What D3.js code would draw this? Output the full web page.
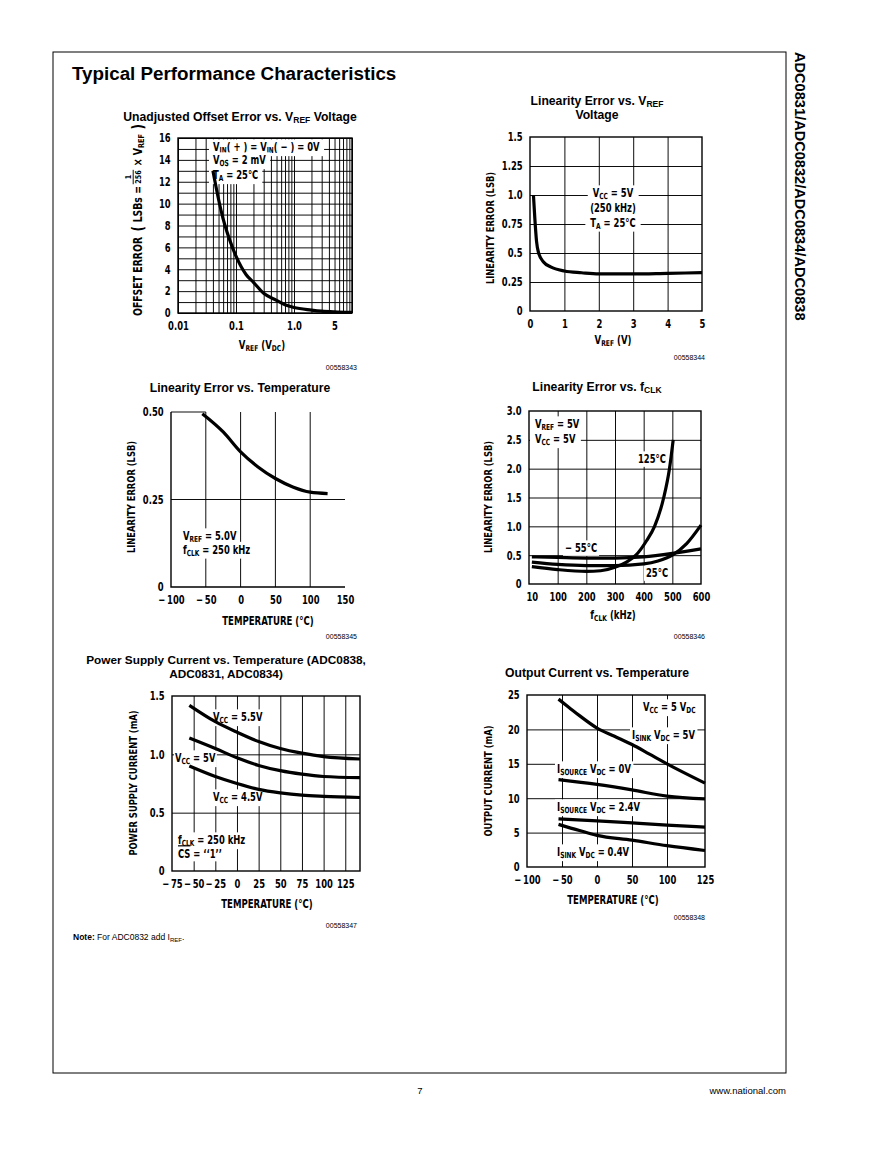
<!DOCTYPE html>
<html>
<head>
<meta charset="utf-8">
<script src="https://d3js.org/d3.v7.min.js"></script>
<style>
  body { margin: 0; background: #fff; }
  svg text { font-family: "Liberation Sans Narrow", "DejaVu Sans Condensed", sans-serif; font-weight: bold; fill: #000; }
  svg text.hd { font-family: "Liberation Sans", Arial, sans-serif; }
  svg text.plain { font-family: "Liberation Sans", Arial, sans-serif; font-weight: normal; }
  .grid line { stroke: #000; stroke-width: 0.95; }
  .curve { fill: none; stroke: #000; stroke-width: 3.2; }
</style>
</head>
<body>
<svg id="page" width="893" height="1155"></svg>
<script>
'use strict';

// ---- data ----
// offset error vs VREF
var offVref = [0.04, 0.05, 0.06, 0.07, 0.08, 0.1, 0.15, 0.2, 0.3, 0.5, 0.7, 1, 2, 3, 5, 10];
var offErr  = [13.0, 10.4, 8.6, 7.4, 6.5, 5.2, 3.5, 2.8, 1.8, 1.15, 0.75, 0.5, 0.27, 0.17, 0.1, 0.05];

// linearity error vs VREF
var linVref = [0.1, 0.14, 0.19, 0.25, 0.4, 0.6, 1, 1.5, 2, 3, 4, 5];
var linErrV = [1.0, 0.8, 0.6, 0.5, 0.42, 0.38, 0.345, 0.33, 0.32, 0.32, 0.325, 0.33];

// linearity error vs temperature
var linTemp = [-55, -25, 0, 25, 50, 75, 100, 125];
var linErrT = [0.495, 0.443, 0.386, 0.343, 0.31, 0.286, 0.271, 0.267];

// linearity error vs fCLK
var fclkM55 = [10, 100, 200, 300, 400, 500, 600];
var errM55  = [0.47, 0.46, 0.45, 0.45, 0.47, 0.53, 0.61];
var fclk25  = [10, 100, 200, 300, 400, 450, 500, 550, 600];
var err25   = [0.38, 0.34, 0.32, 0.32, 0.35, 0.40, 0.50, 0.70, 1.02];
var fclk125 = [10, 100, 200, 250, 300, 340, 373, 410, 438, 470, 490, 503];
var err125  = [0.30, 0.25, 0.22, 0.23, 0.29, 0.38, 0.5, 0.75, 1.0, 1.5, 2.0, 2.5];

// supply current vs temperature
var psTemp  = [-55, -25, 0, 25, 50, 75, 100, 142];
var ps55    = [1.42, 1.28, 1.19, 1.11, 1.05, 1.01, 0.98, 0.96];
var ps50    = [1.14, 1.05, 0.97, 0.905, 0.86, 0.83, 0.81, 0.80];
var ps45    = [0.90, 0.81, 0.75, 0.70, 0.67, 0.65, 0.64, 0.63];

// output current vs temperature
var ocTempA   = [-55, -40, -25, 0, 25, 50, 75, 100, 125];
var sink5     = [24.4, 23.2, 22.0, 20.2, 19.0, 17.8, 16.4, 15.0, 12.2];
var ocTempB   = [-55, 0, 50, 100, 125];
var source0   = [12.7, 12.0, 11.2, 10.3, 9.9];
var source24  = [7.0, 6.7, 6.4, 6.1, 5.8];
var ocTempC   = [-55, -25, 0, 50, 100, 125];
var sink04    = [6.2, 5.3, 4.6, 3.9, 3.1, 2.4];

// tick labels
var offXTicks = [0.01, 0.1, 1, 5], offXLabels = ["0.01", "0.1", "1.0", "5"];
var offYTicks = [0, 2, 4, 6, 8, 10, 12, 14, 16];
var lvXTicks = [0, 1, 2, 3, 4, 5];
var lvYTicks = [0, 0.25, 0.5, 0.75, 1.0, 1.25, 1.5], lvYLabels = ["0", "0.25", "0.5", "0.75", "1.0", "1.25", "1.5"];
var ltXTicks = [-100, -50, 0, 50, 100, 150];
var ltYTicks = [0, 0.25, 0.5], ltYLabels = ["0", "0.25", "0.50"];
var fkXTicks = [10, 100, 200, 300, 400, 500, 600];
var fkYTicks = [0, 0.5, 1.0, 1.5, 2.0, 2.5, 3.0], fkYLabels = ["0", "0.5", "1.0", "1.5", "2.0", "2.5", "3.0"];
var psXTicks = [-75, -50, -25, 0, 25, 50, 75, 100, 125];
var psYTicks = [0, 0.5, 1.0, 1.5], psYLabels = ["0", "0.5", "1.0", "1.5"];
var ocXTicks = [-100, -50, 0, 50, 100, 125];
var ocYTicks = [0, 5, 10, 15, 20, 25];

var page = d3.select("#page");
var SX = 0.78;   // squeeze for the condensed lettering
var FS = 12;     // size of the condensed lettering

function neg(v) { return v < 0 ? "\u2212\u2009" + Math.abs(v) : String(v); }

// text with _{sub} and ~{overline} markup, squeezed sideways by sx
function rich(g, x, y, str, size, anchor, sx) {
  var w = g.append("g").attr("transform", "translate(" + x + "," + y + ") scale(" + (sx || 1) + ",1)");
  var t = w.append("text").attr("x", 0).attr("y", 0)
    .attr("font-size", size).attr("text-anchor", anchor || "start");
  var re = /([_~])\{([^}]*)\}/g, last = 0, m, off = 0;
  function add(s, kind) {
    if (!s) return;
    var ts = t.append("tspan").text(s);
    if (kind === "_") {
      var d = size * 0.2;
      ts.attr("font-size", size * 0.7).attr("dy", d - off);
      off = d;
    } else {
      if (off) { ts.attr("dy", -off); off = 0; }
      if (kind === "~") ts.style("text-decoration", "overline");
    }
  }
  while ((m = re.exec(str))) { add(str.slice(last, m.index)); add(m[2], m[1]); last = re.lastIndex; }
  add(str.slice(last));
  return t;
}

// label with white box behind it
function note(g, x, y, str, pad, anchor) {
  var t = rich(g, x, y, str, FS, anchor || "start", SX);
  var b = t.node().getBBox(), p = (pad == null ? 2 : pad) / SX;
  d3.select(t.node().parentNode).insert("rect", function() { return t.node(); })
    .attr("x", b.x - p).attr("y", b.y - 0.5).attr("width", b.width + 2 * p).attr("height", b.height + 1)
    .attr("fill", "#fff");
  return t;
}

function gridX(g, x, y, vals) {
  var r = y.range();
  g.append("g").attr("class", "grid").attr("transform", "translate(0," + r[0] + ")")
    .call(d3.axisBottom(x).tickValues(vals).tickSize(-(r[0] - r[r.length - 1])).tickFormat(""))
    .call(function(s) { s.select(".domain").remove(); });
}
function gridY(g, x, y, vals) {
  var r = x.range();
  g.append("g").attr("class", "grid").attr("transform", "translate(" + r[0] + ",0)")
    .call(d3.axisLeft(y).tickValues(vals).tickSize(-(r[r.length - 1] - r[0])).tickFormat(""))
    .call(function(s) { s.select(".domain").remove(); });
}
function labelsX(g, x, y, vals, fmt) {
  g.append("g").attr("transform", "translate(0," + y.range()[0] + ")")
    .call(d3.axisBottom(x).tickValues(vals).tickSize(0).tickPadding(8.5).tickFormat(fmt))
    .call(function(s) {
      s.select(".domain").remove();
      s.attr("font-family", null).attr("font-size", FS);
      s.selectAll("text").attr("transform", "scale(" + SX + ",1)");
    });
}
function labelsY(g, x, y, vals, fmt) {
  g.append("g").attr("transform", "translate(" + x.range()[0] + ",0)")
    .call(d3.axisLeft(y).tickValues(vals).tickSize(0).tickPadding(9.5).tickFormat(fmt))
    .call(function(s) {
      s.select(".domain").remove();
      s.attr("font-family", null).attr("font-size", FS);
      s.selectAll("text").attr("transform", "scale(" + SX + ",1)");
    });
}
function frame(g, x, y) {
  var xr = x.range(), yr = y.range();
  g.append("rect").attr("x", xr[0]).attr("y", yr[yr.length - 1])
    .attr("width", xr[xr.length - 1] - xr[0]).attr("height", yr[0] - yr[yr.length - 1])
    .attr("fill", "none").attr("stroke", "#000").attr("stroke-width", 1.4);
}
function curve(g, x, y, xs, ys) {
  var line = d3.line().x(function(d) { return x(d[0]); }).y(function(d) { return y(d[1]); })
    .curve(d3.curveMonotoneX);
  g.append("path").attr("class", "curve").attr("d", line(d3.zip(xs, ys)));
}
function titleX(g, cx, y, str) {
  rich(g, cx, y, str, 11.5, "middle", 0.83);
}
function titleY(g, cx, cy, str) {
  var gg = g.append("g").attr("transform", "translate(" + cx + "," + cy + ") rotate(-90)");
  rich(gg, 0, 0, str, 11.2, "middle", 0.83);
}
function figNo(g, x, y, s) {
  g.append("text").attr("class", "plain").attr("x", x).attr("y", y)
    .attr("font-size", 7).attr("text-anchor", "end").text(s);
}
function chartTitle(cx, y, str, size) {
  rich(page, cx, y, str, size || 12.2, "middle", 1).attr("class", "hd");
}

// ---- page furniture ----
page.append("rect").attr("x", 53).attr("y", 52).attr("width", 733).attr("height", 1021)
  .attr("fill", "none").attr("stroke", "#000").attr("stroke-width", 1);
page.append("text").attr("class", "hd").attr("x", 72).attr("y", 80).attr("font-size", 18.8)
  .text("Typical Performance Characteristics");
page.append("text").attr("class", "hd").attr("transform", "translate(795,52) rotate(90)")
  .attr("font-size", 14.6).text("ADC0831/ADC0832/ADC0834/ADC0838");
page.append("text").attr("class", "plain").attr("x", 420).attr("y", 1094).attr("font-size", 9.5)
  .attr("text-anchor", "middle").text("7");
page.append("text").attr("class", "plain").attr("x", 786).attr("y", 1094).attr("font-size", 9.5)
  .attr("text-anchor", "end").text("www.national.com");
var nt = page.append("text").attr("class", "plain").attr("x", 73).attr("y", 940).attr("font-size", 8.5);
nt.append("tspan").attr("font-weight", "bold").text("Note:");
nt.append("tspan").text(" For ADC0832 add I");
nt.append("tspan").attr("font-size", 6).attr("dy", 2).text("REF");
nt.append("tspan").attr("dy", -2).text(".");

// ---- 1: offset error vs VREF ----
(function() {
  var g = page.append("g");
  var x = d3.scaleLog().domain([0.01, 10]).range([178, 352]);
  var y = d3.scaleLinear().domain([0, 16]).range([313, 138]);
  chartTitle(240, 121, "Unadjusted Offset Error vs. V_{REF} Voltage");
  gridX(g, x, y, x.ticks());
  gridY(g, x, y, y.ticks(16));
  frame(g, x, y);
  labelsX(g, x, y, offXTicks, function(d, i) { return offXLabels[i]; });
  labelsY(g, x, y, offYTicks, function(d) { return d; });
  var lb = g.append("g");
  note(lb, 213, 151, "V_{IN}( + ) = V_{IN}( \u2212 ) = 0V", 4);
  note(lb, 213, 164, "V_{OS} = 2 mV", 4);
  note(lb, 213, 179, "T_{A}  =  25\u00b0C", 4);
  curve(g, x, y, offVref, offErr);
  titleX(g, 262, 349, "V_{REF} (V_{DC})");
  figNo(g, 357, 370, "00558343");

  // rotated label with the 1/256 fraction
  var gl = g.append("g").attr("transform", "translate(142,220) rotate(-90)");
  var inner = gl.append("g");
  var cur = 0;
  function seg(str, size, dy) {
    var t = rich(inner, cur, dy || 0, str, size, "start", 1);
    cur += t.node().getComputedTextLength();
  }
  seg("OFFSET ERROR", 11.5); cur += 6;
  seg("(", 15, 1); cur += 4;
  seg("LSBs =", 11.5); cur += 9;
  var fx = cur + 1;
  inner.append("text").attr("x", fx).attr("y", -11).attr("font-size", 8).attr("text-anchor", "middle").text("1");
  inner.append("line").attr("x1", fx - 8).attr("x2", fx + 8).attr("y1", -8.8).attr("y2", -8.8)
    .attr("stroke", "#000").attr("stroke-width", 1);
  inner.append("text").attr("x", fx).attr("y", -1.2).attr("font-size", 8).attr("text-anchor", "middle").text("256");
  cur = fx + 12;
  seg("\u00d7 V_{REF}", 11.5); cur += 5;
  seg(")", 15, 1);
  inner.attr("transform", "translate(" + (-cur * 0.9 / 2) + ",0) scale(0.9,1)");
})();

// ---- 2: linearity error vs VREF ----
(function() {
  var g = page.append("g");
  var x = d3.scaleLinear().domain([0, 5]).range([530, 702]);
  var y = d3.scaleLinear().domain([0, 1.5]).range([311, 137]);
  chartTitle(597, 105, "Linearity Error vs. V_{REF}");
  chartTitle(597, 119, "Voltage");
  gridX(g, x, y, [1, 2, 3, 4]);
  gridY(g, x, y, [0.25, 0.5, 0.75, 1.0, 1.25]);
  frame(g, x, y);
  labelsX(g, x, y, lvXTicks, function(d) { return d; });
  labelsY(g, x, y, lvYTicks, function(d, i) { return lvYLabels[i]; });
  var lb = g.append("g");
  note(lb, 613, 197, "V_{CC} = 5V", 5, "middle");
  note(lb, 613, 212, "(250 kHz)", 5, "middle");
  note(lb, 613, 226.5, "T_{A} = 25\u00b0C", 5, "middle");
  curve(g, x, y, linVref, linErrV);
  titleX(g, 613, 344, "V_{REF} (V)");
  titleY(g, 494, 228, "LINEARITY ERROR (LSB)");
  figNo(g, 705, 360, "00558344");
})();

// ---- 3: linearity error vs temperature ----
(function() {
  var g = page.append("g");
  var x = d3.scaleLinear().domain([-100, 150]).range([171, 345]);
  var y = d3.scaleLinear().domain([0, 0.5]).range([587, 412]);
  chartTitle(240, 392, "Linearity Error vs. Temperature");
  var gr = g.append("g").attr("class", "grid");
  gr.selectAll(".v").data([-50, 0, 50, 100]).join("line")
    .attr("x1", x).attr("x2", x).attr("y1", y(0)).attr("y2", y(0.5));
  gr.append("line").attr("x1", x(-100)).attr("x2", x(150)).attr("y1", y(0.25)).attr("y2", y(0.25));
  gr.append("line").attr("x1", x(-100)).attr("x2", x(-50)).attr("y1", y(0.5)).attr("y2", y(0.5));
  g.append("path").attr("fill", "none").attr("stroke", "#000").attr("stroke-width", 1.4)
    .attr("d", "M" + x(-100) + "," + y(0.5) + "V" + y(0) + "H" + x(150));
  labelsX(g, x, y, ltXTicks, neg);
  labelsY(g, x, y, ltYTicks, function(d, i) { return ltYLabels[i]; });
  var lb = g.append("g");
  note(lb, 183, 540, "V_{REF} = 5.0V", 2);
  note(lb, 183, 553.5, "f_{CLK} = 250 kHz", 2);
  curve(g, x, y, linTemp, linErrT);
  titleX(g, 268, 625, "TEMPERATURE (\u00b0C)");
  titleY(g, 135, 497, "LINEARITY ERROR (LSB)");
  figNo(g, 357, 639, "00558345");
})();

// ---- 4: linearity error vs fCLK ----
(function() {
  var g = page.append("g");
  var x = d3.scaleLinear().domain([0, 600]).range([529, 701]);
  var y = d3.scaleLinear().domain([0, 3]).range([584, 411]);
  chartTitle(597, 391, "Linearity Error vs. f_{CLK}");
  gridX(g, x, y, [100, 200, 300, 400, 500]);
  gridY(g, x, y, [0.5, 1.0, 1.5, 2.0, 2.5]);
  frame(g, x, y);
  labelsX(g, x, y, fkXTicks, function(d) { return d; });
  labelsY(g, x, y, fkYTicks, function(d, i) { return fkYLabels[i]; });
  var lb = g.append("g");
  note(lb, 535, 428, "V_{REF} = 5V", 5);
  note(lb, 535, 443, "V_{CC} = 5V", 5);
  note(lb, 638, 463, "125\u00b0C", 2);
  note(lb, 565, 552, "\u2212 55\u00b0C", 2);
  note(lb, 646, 577, "25\u00b0C", 2);
  curve(g, x, y, fclkM55, errM55);
  curve(g, x, y, fclk25, err25);
  curve(g, x, y, fclk125, err125);
  titleX(g, 613, 619, "f_{CLK} (kHz)");
  titleY(g, 492, 497, "LINEARITY ERROR (LSB)");
  figNo(g, 705, 639, "00558346");
})();

// ---- 5: power supply current vs temperature ----
(function() {
  var g = page.append("g");
  var x = d3.scaleLinear().domain([-75, 142]).range([172, 360]);
  var y = d3.scaleLinear().domain([0, 1.5]).range([871, 696]);
  chartTitle(226, 664, "Power Supply Current vs. Temperature (ADC0838,", 11.8);
  chartTitle(226, 678, "ADC0831, ADC0834)", 11.8);
  gridX(g, x, y, [-50, -25, 0, 25, 50, 75, 100, 125]);
  gridY(g, x, y, [0.5, 1.0]);
  frame(g, x, y);
  labelsX(g, x, y, psXTicks, neg);
  labelsY(g, x, y, psYTicks, function(d, i) { return psYLabels[i]; });
  var lb = g.append("g");
  note(lb, 213, 721, "V_{CC} = 5.5V", 2);
  note(lb, 175, 762, "V_{CC} = 5V", 1);
  note(lb, 213, 801, "V_{CC} = 4.5V", 2);
  note(lb, 178, 844, "f_{CLK} = 250 kHz", 2);
  note(lb, 178, 857.5, "~{CS} = \u2018\u20181\u2019\u2019", 2);
  curve(g, x, y, psTemp, ps55);
  curve(g, x, y, psTemp, ps50);
  curve(g, x, y, psTemp, ps45);
  titleX(g, 267, 908, "TEMPERATURE (\u00b0C)");
  titleY(g, 137, 783, "POWER SUPPLY CURRENT (mA)");
  figNo(g, 357, 928, "00558347");
})();

// ---- 6: output current vs temperature ----
(function() {
  var g = page.append("g");
  var x = d3.scaleLinear().domain([-100, 100, 125]).range([527, 667, 705]);
  var y = d3.scaleLinear().domain([0, 25]).range([867, 695]);
  chartTitle(597, 677, "Output Current vs. Temperature");
  gridX(g, x, y, [-50, 0, 50, 100]);
  gridY(g, x, y, [5, 10, 15, 20]);
  frame(g, x, y);
  labelsX(g, x, y, ocXTicks, neg);
  labelsY(g, x, y, ocYTicks, function(d) { return d; });
  var lb = g.append("g");
  note(lb, 643, 711, "V_{CC} = 5 V_{DC}", 2);
  note(lb, 632, 739, "I_{SINK} V_{DC} = 5V", 2);
  note(lb, 557, 773, "I_{SOURCE} V_{DC} = 0V", 2);
  note(lb, 557, 811, "I_{SOURCE} V_{DC} = 2.4V", 2);
  note(lb, 557, 856, "I_{SINK} V_{DC} = 0.4V", 2);
  curve(g, x, y, ocTempA, sink5);
  curve(g, x, y, ocTempB, source0);
  curve(g, x, y, ocTempB, source24);
  curve(g, x, y, ocTempC, sink04);
  titleX(g, 613, 904, "TEMPERATURE (\u00b0C)");
  titleY(g, 492, 781, "OUTPUT CURRENT (mA)");
  figNo(g, 705, 920, "00558348");
})();
</script>
</body>
</html>
